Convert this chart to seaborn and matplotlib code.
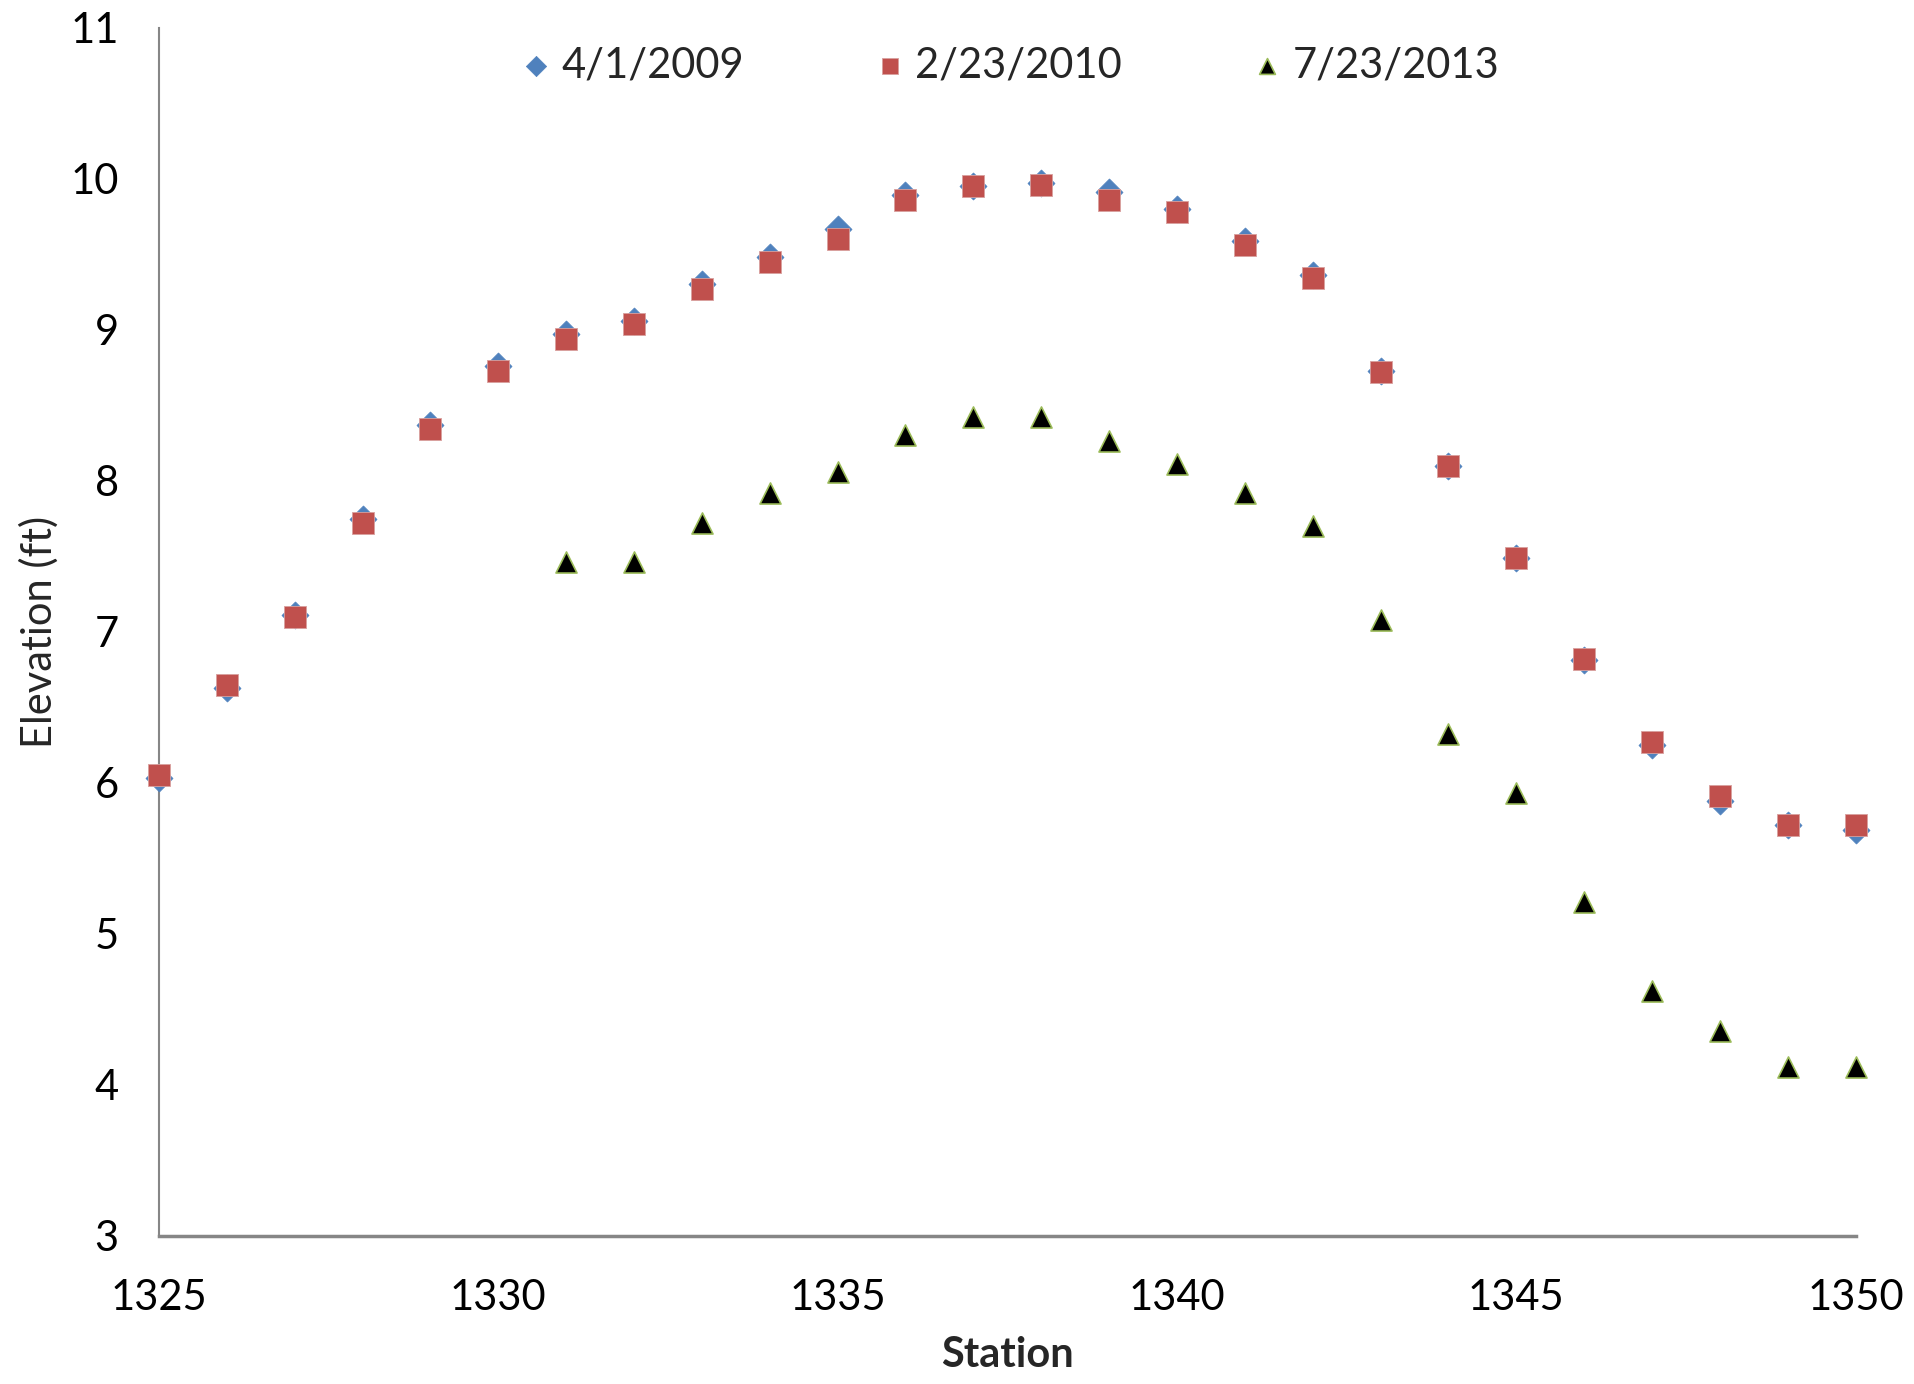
import matplotlib
matplotlib.use("Agg")
import matplotlib.pyplot as plt
import seaborn as sns
import pandas as pd

# Survey stations along the profile
stations = list(range(1325, 1351))

# Elevation (ft) per survey date
elev_2009 = [6.03, 6.63, 7.11, 7.75, 8.37, 8.76, 8.97, 9.06, 9.30, 9.48,
             9.67, 9.89, 9.95, 9.97, 9.91, 9.80, 9.59, 9.36, 8.73, 8.10,
             7.49, 6.81, 6.25, 5.88, 5.72, 5.69]
elev_2010 = [6.05, 6.65, 7.10, 7.72, 8.34, 8.73, 8.94, 9.04, 9.27, 9.45,
             9.60, 9.86, 9.95, 9.96, 9.86, 9.78, 9.56, 9.34, 8.72, 8.10,
             7.49, 6.82, 6.27, 5.91, 5.72, 5.72]
stations_2013 = list(range(1331, 1351))
elev_2013 = [7.46, 7.46, 7.72, 7.92, 8.06, 8.30, 8.42, 8.42, 8.26, 8.11,
             7.92, 7.70, 7.08, 6.32, 5.93, 5.21, 4.62, 4.36, 4.12, 4.12]

labels = ["4/1/2009", "2/23/2010", "7/23/2013"]

sns.set_theme(style="white")
plt.rcParams["font.family"] = ["Lato", "DejaVu Sans"]

fig = plt.figure(figsize=(19.15, 13.84), dpi=100)
ax = fig.add_axes([0.083, 0.107, 0.886, 0.873])

df09 = pd.DataFrame({"Station": stations, "Elevation": elev_2009})
df10 = pd.DataFrame({"Station": stations, "Elevation": elev_2010})
df13 = pd.DataFrame({"Station": stations_2013, "Elevation": elev_2013})

sns.scatterplot(data=df09, x="Station", y="Elevation", ax=ax, marker="D",
                s=190, color="#4F81BD", edgecolor="#4F81BD", linewidth=0.5,
                label=labels[0], zorder=3, clip_on=False)
sns.scatterplot(data=df10, x="Station", y="Elevation", ax=ax, marker="s",
                s=230, color="#C0504D", edgecolor="#D9A09E", linewidth=0.6,
                label=labels[1], zorder=4, clip_on=False)
sns.scatterplot(data=df13, x="Station", y="Elevation", ax=ax, marker="^",
                s=230, color="black", edgecolor="#9BBB59", linewidth=1.2,
                label=labels[2], zorder=5, clip_on=False)

ax.set_xlim(1325, 1350)
ax.set_ylim(3, 11)
ax.set_xticks(range(1325, 1351, 5))
ax.set_yticks(range(3, 12))

for side in ["top", "right"]:
    ax.spines[side].set_visible(False)
ax.spines["left"].set_color("#868686")
ax.spines["left"].set_linewidth(1.5)
ax.spines["bottom"].set_color("#868686")
ax.spines["bottom"].set_linewidth(2.5)

ax.tick_params(axis="both", which="major", direction="out", length=11,
               width=1.3, color="#868686", labelsize=30, labelcolor="black")
ax.tick_params(axis="x", pad=20)
ax.tick_params(axis="y", pad=18)

ax.set_xlabel("Station", fontsize=30, fontweight="bold", labelpad=14)
ax.set_ylabel("Elevation (ft)", fontsize=30, labelpad=8)

leg = ax.legend(loc="upper center", bbox_to_anchor=(0.5, 1.0), ncol=3,
                frameon=False, fontsize=30, markerscale=0.75,
                handletextpad=0.1, columnspacing=3.0, handlelength=1.0,
                borderaxespad=0.05)

fig.savefig("out.png", dpi=100, facecolor="white")
